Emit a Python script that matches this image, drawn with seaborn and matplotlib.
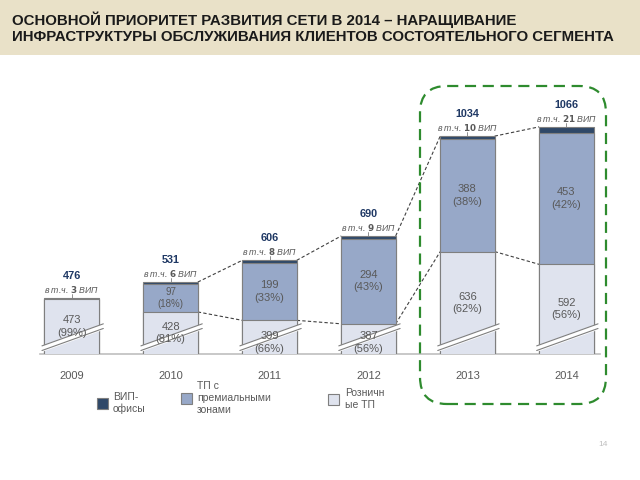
import matplotlib
matplotlib.use("Agg")
import matplotlib.pyplot as plt
from matplotlib.patches import FancyBboxPatch, Rectangle
import seaborn as sns
import pandas as pd
import numpy as np

# данные с картинки
years = ["2009", "2010", "2011", "2012", "2013", "2014"]
vip = [3, 6, 8, 9, 10, 21]
premium = [0, 97, 199, 294, 388, 453]
retail = [473, 428, 399, 387, 636, 592]
totals = [476, 531, 606, 690, 1034, 1066]
premium_pct = ["", "18%", "33%", "43%", "38%", "42%"]
retail_pct = ["99%", "81%", "66%", "56%", "62%", "56%"]

c_vip = "#2f4868"
c_prem = "#97a8c8"
c_ret = "#dfe3ee"
c_edge = "#7f7f7f"
c_text = "#595959"
c_navy = "#1f3864"

sns.set_theme(style="white")
plt.rcParams["font.family"] = ["Liberation Sans", "DejaVu Sans"]

df = pd.DataFrame({"year": years, "vip": vip, "premium": premium, "retail": retail})
df["top"] = df["vip"] + df["premium"] + df["retail"]
df["mid"] = df["premium"] + df["retail"]

fig = plt.figure(figsize=(6.4, 4.8), dpi=100)
fig.patch.set_facecolor("white")

# бежевая полоса сверху
fig.patches.append(Rectangle((0, 1 - 55 / 480), 1, 55 / 480, transform=fig.transFigure,
                             facecolor="#e9e1c8", edgecolor="none", zorder=0))
fig.text(12 / 640, 1 - 28 / 480,
         "ОСНОВНОЙ ПРИОРИТЕТ РАЗВИТИЯ СЕТИ В 2014 – НАРАЩИВАНИЕ\n"
         "ИНФРАСТРУКТУРЫ ОБСЛУЖИВАНИЯ КЛИЕНТОВ СОСТОЯТЕЛЬНОГО СЕГМЕНТА",
         fontsize=10.8, fontweight="bold", color="#1a1a1a", va="center", linespacing=1.15)

ax = fig.add_axes([40 / 640, 1 - 354 / 480, 560 / 640, 264 / 480])
w = 0.55
sns.barplot(data=df, x="year", y="top", color=c_vip, width=w, edgecolor=c_edge,
            linewidth=0.8, saturation=1, ax=ax, zorder=2)
sns.barplot(data=df, x="year", y="mid", color=c_prem, width=w, edgecolor=c_edge,
            linewidth=0.8, saturation=1, ax=ax, zorder=3)
sns.barplot(data=df, x="year", y="retail", color=c_ret, width=w, edgecolor=c_edge,
            linewidth=0.8, saturation=1, ax=ax, zorder=4)

y0 = 283
ax.set_ylim(y0, 1193)
ax.set_xlim(-0.32, 5.34)
ax.set_xlabel("")
ax.set_ylabel("")
ax.set_yticks([])
ax.tick_params(axis="x", length=0, pad=12, labelsize=8, labelcolor=c_text)
for s in ["top", "left", "right"]:
    ax.spines[s].set_visible(False)
ax.spines["bottom"].set_color("#bfbfbf")
ax.spines["bottom"].set_linewidth(1.2)

for i in range(len(years)):
    top = totals[i]
    ax.text(i, top + 76, str(top), ha="center", va="center", fontsize=7.8,
            fontweight="bold", color=c_navy, zorder=6)
    ax.text(i, top + 30, "в т.ч. $\\mathbf{%d}$ ВИП" % vip[i], ha="center", va="center",
            fontsize=6.3, style="italic", color=c_text, zorder=6)
    ax.plot([i, i], [top, top + 14], color=c_edge, lw=0.6, zorder=6)
    # подписи сегментов
    if premium[i] > 0:
        pm = retail[i] + premium[i] / 2
        fs = 7 if premium[i] < 120 else 8
        ax.text(i, pm, "%d\n(%s)" % (premium[i], premium_pct[i]), ha="center", va="center",
                fontsize=fs, color=c_text, zorder=6, linespacing=1.3)
    rm = (y0 + retail[i]) / 2
    if i in (2, 3):
        rm = y0 + 40
    ax.text(i, rm, "%d\n(%s)" % (retail[i], retail_pct[i]), ha="center", va="center",
            fontsize=8, color=c_text, zorder=7, linespacing=1.3)
    # значок разрыва
    xs = np.array([i - 0.3, i + 0.32])
    lo = np.array([y0 + 12, y0 + 88])
    ax.fill_between(xs, lo, lo + 16, color="white", zorder=5)
    ax.plot(xs, lo, color=c_edge, lw=0.8, zorder=5)
    ax.plot(xs, lo + 16, color=c_edge, lw=0.8, zorder=5)

# пунктирные соединения
for i in range(1, len(years) - 1):
    ax.plot([i + w / 2, i + 1 - w / 2], [totals[i], totals[i + 1]], color="#404040",
            lw=0.8, ls=(0, (3, 2)), zorder=1)
    ax.plot([i + w / 2, i + 1 - w / 2], [retail[i], retail[i + 1]], color="#404040",
            lw=0.8, ls=(0, (3, 2)), zorder=1)

# зелёная рамка вокруг 2013-2014
fig.patches.append(FancyBboxPatch((420 / 640, 1 - 404 / 480), 186 / 640, 318 / 480,
                                  boxstyle="round,pad=0,rounding_size=0.042",
                                  transform=fig.transFigure, facecolor="none",
                                  edgecolor="#2e8b2e", lw=1.6, ls=(0, (5, 3)), zorder=10,
                                  mutation_aspect=640 / 480))

# легенда
leg = [(103, 403, c_vip, "ВИП-\nофисы", 113),
       (187, 398, c_prem, "ТП с\nпремиальными\nзонами", 197),
       (334, 399, c_ret, "Розничн\nые ТП", 345)]
for px, py, col, lab, tx in leg:
    fig.patches.append(Rectangle((px / 640 - 0.009, 1 - py / 480 - 0.012), 0.017, 0.023,
                                 transform=fig.transFigure, facecolor=col,
                                 edgecolor=c_edge, lw=0.8))
    fig.text(tx / 640, 1 - py / 480, lab, fontsize=7.5, color=c_text, va="center",
             ha="left", linespacing=1.2)

fig.text(603 / 640, 1 - 445 / 480, "14", fontsize=6, color="#bfbfbf", ha="center", va="center")

fig.savefig("out.png", dpi=100)
